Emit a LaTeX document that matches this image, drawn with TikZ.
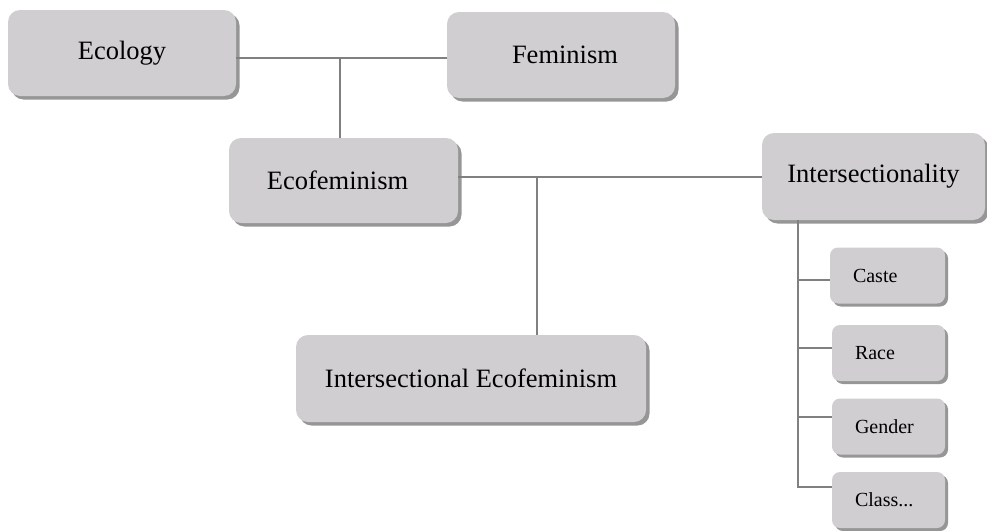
\documentclass[tikz,border=0pt]{standalone}
\usepackage{fontspec}
\setmainfont{Liberation Serif}
\usetikzlibrary{shadows,calc}
\definecolor{boxfill}{RGB}{208,206,209}
\definecolor{shadowgray}{RGB}{150,150,150}
\definecolor{linegray}{RGB}{128,128,128}
\tikzset{
  bigbox/.style={rectangle, rounded corners=12pt, fill=boxfill,
    drop shadow={shadow xshift=3.5pt, shadow yshift=-3.5pt, fill=shadowgray, opacity=1},
    font=\fontsize{26.5}{29}\selectfont, inner sep=0pt},
  smallbox/.style={rectangle, rounded corners=8pt, fill=boxfill,
    drop shadow={shadow xshift=3pt, shadow yshift=-3pt, fill=shadowgray, opacity=1},
    font=\fontsize{20}{23}\selectfont, minimum width=115pt, minimum height=56pt,
    inner xsep=23pt, text width=69pt, align=left},
  conn/.style={draw=linegray, line width=1.2pt}
}
\begin{document}
\begin{tikzpicture}[x=1pt,y=1pt]
\useasboundingbox (0,0) rectangle (987,-530);
\node[bigbox, minimum width=228pt, minimum height=86pt] (ecol) at (122,-53) {Ecology};
\node[bigbox, minimum width=228pt, minimum height=86pt] (fem) at (561,-55) {\hspace*{8pt}Feminism};
\node[bigbox, minimum width=229pt, minimum height=85pt] (ecofem) at (343.5,-180.5) {Ecofeminism\hspace*{12pt}};
\node[bigbox, minimum width=223pt, minimum height=87pt] (inter) at (873.5,-176.5) {Intersectionality};
\node[bigbox, minimum width=350pt, minimum height=87pt] (ie) at (471,-378.5) {Intersectional Ecofeminism};
\node[smallbox] (caste) at (887.5,-275.5) {Caste};
\node[smallbox, minimum width=113pt, text width=67pt] (race) at (888.5,-353) {Race};
\node[smallbox, minimum width=113pt, text width=67pt] (gender) at (888.5,-426.5) {Gender};
\node[smallbox, minimum width=113pt, text width=67pt] (cls) at (888.5,-500) {Class...};
\coordinate (j1) at (340,-58);
\coordinate (j2) at (537,-177);
\coordinate (t) at (798,-487);
\draw[conn] (ecol.east |- j1) -- (fem.west |- j1);
\draw[conn] (j1) -- (ecofem.north -| j1);
\draw[conn] (ecofem.east |- j2) -- (inter.west |- j2);
\draw[conn] (j2) -- (ie.north -| j2);
\coordinate (cb) at ([yshift=-4.5pt]caste.west);
\coordinate (rb) at ([yshift=5pt]race.west);
\coordinate (gb) at ([yshift=9.5pt]gender.west);
\coordinate (kb) at ([yshift=13pt]cls.west);
\draw[conn] (inter.south -| t) -- (t) -- (kb);
\draw[conn] (cb -| t) -- (cb);
\draw[conn] (rb -| t) -- (rb);
\draw[conn] (gb -| t) -- (gb);
\end{tikzpicture}
\end{document}
